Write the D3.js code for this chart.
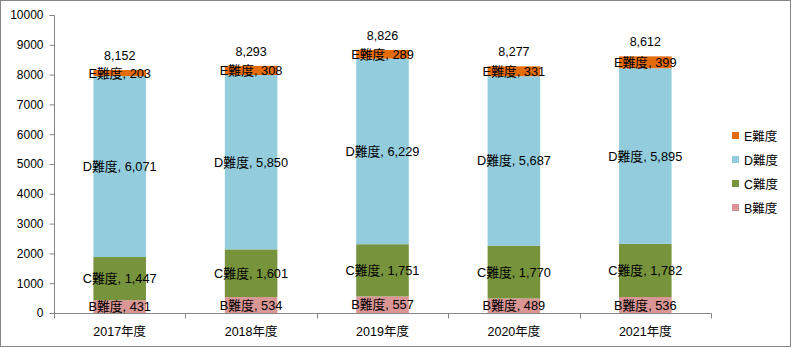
<!DOCTYPE html>
<html>
<head>
<meta charset="utf-8">
<script src="https://cdn.jsdelivr.net/npm/d3@7"></script>
<style>
  html, body { margin: 0; padding: 0; background: #fff; }
  svg { display: block; font-family: "Liberation Sans", Arial, "Noto Sans CJK JP", sans-serif; }
</style>
</head>
<body>
<svg id="chart" width="792" height="348"></svg>
<script>
// Fiscal years on the x axis
const years = ["2017年度", "2018年度", "2019年度", "2020年度", "2021年度"];
// Stack order, bottom to top
const levels = ["B難度", "C難度", "D難度", "E難度"];
const bValues = [431, 534, 557, 489, 536];
const cValues = [1447, 1601, 1751, 1770, 1782];
const dValues = [6071, 5850, 6229, 5687, 5895];
const eValues = [203, 308, 289, 331, 399];
const yTicks = [0, 1000, 2000, 3000, 4000, 5000, 6000, 7000, 8000, 9000, 10000];
const colors = ["#D99694", "#77933C", "#93CDDD", "#E46C0A"];

const seriesValues = [bValues, cValues, dValues, eValues];
const rows = years.map((yr, i) => {
  const r = { year: yr };
  levels.forEach((l, j) => { r[l] = seriesValues[j][i]; });
  return r;
});
const totals = years.map((yr, i) => d3.sum(seriesValues, s => s[i]));

const svg = d3.select("#chart");
const plotLeft = 54, plotRight = 711, plotTop = 15, plotBottom = 313;

// outer frame
svg.append("rect").attr("x", 0.5).attr("y", 0.5).attr("width", 790).attr("height", 346)
  .attr("fill", "#fff").attr("stroke", "#868686").attr("stroke-width", 1);

const x = d3.scaleBand().domain(years).range([plotLeft, plotRight]).paddingInner(0.6).paddingOuter(0.3);
const xb = d3.scaleBand().domain(years).range([plotLeft, plotRight]);
const y = d3.scaleLinear().domain([0, 10000]).range([plotBottom, plotTop]);

const stack = d3.stack().keys(levels)(rows);

const g = svg.append("g");
stack.forEach((layer, j) => {
  g.selectAll(null).data(layer).enter().append("rect")
    .attr("x", d => x(d.data.year))
    .attr("width", x.bandwidth())
    .attr("y", d => y(d[1]))
    .attr("height", d => y(d[0]) - y(d[1]))
    .attr("fill", colors[j]);
});

// y axis
const yAxis = svg.append("g").attr("transform", `translate(${plotLeft + 0.5},0)`)
  .call(d3.axisLeft(y).tickValues(yTicks).tickFormat(d3.format("d")).tickSize(5).tickPadding(6));
yAxis.select(".domain").attr("stroke", "#868686").attr("d", `M-5,${plotTop + 0.5}H0V${plotBottom + 0.5}`);
yAxis.selectAll(".tick line").attr("stroke", "#868686");
yAxis.selectAll("text").attr("font-size", 12).attr("fill", "#000");

// x axis with ticks at category boundaries
const xAxis = svg.append("g").attr("transform", `translate(0,${plotBottom + 0.5})`);
xAxis.append("line").attr("x1", plotLeft).attr("x2", plotRight + 0.5).attr("stroke", "#868686");
const bounds = years.map(d => xb(d)).concat([xb(years[years.length - 1]) + xb.bandwidth()]);
xAxis.selectAll(".bt").data(bounds).enter().append("line")
  .attr("x1", d => Math.round(d) + 0.5).attr("x2", d => Math.round(d) + 0.5)
  .attr("y1", 0).attr("y2", 5).attr("stroke", "#868686");
xAxis.selectAll(".xl").data(years).enter().append("text")
  .attr("x", d => xb(d) + xb.bandwidth() / 2).attr("y", 22)
  .attr("text-anchor", "middle").attr("font-size", 12.5).text(d => d);

// segment labels
stack.forEach((layer, j) => {
  g.selectAll(null).data(layer).enter().append("text")
    .attr("x", d => x(d.data.year) + x.bandwidth() / 2)
    .attr("y", d => (y(d[0]) + y(d[1])) / 2 + 4.5)
    .attr("text-anchor", "middle").attr("font-size", 12.8).attr("fill", "#000")
    .text(d => `${levels[j]}, ${d3.format(",")(d[1] - d[0])}`);
});

// totals above each bar
g.selectAll(".tot").data(years).enter().append("text")
  .attr("x", d => x(d) + x.bandwidth() / 2)
  .attr("y", (d, i) => y(totals[i]) - 10)
  .attr("text-anchor", "middle").attr("font-size", 12.5).text((d, i) => d3.format(",")(totals[i]));

// legend, top entry is the top of the stack
const legend = svg.append("g");
const legItems = levels.slice().reverse();
legItems.forEach((l, i) => {
  const ly = 136 + i * 24;
  legend.append("rect").attr("x", 732).attr("y", ly - 4).attr("width", 7).attr("height", 7)
    .attr("fill", colors[levels.indexOf(l)]);
  legend.append("text").attr("x", 744).attr("y", ly + 4.5).attr("font-size", 12.5).text(l);
});
</script>
</body>
</html>
